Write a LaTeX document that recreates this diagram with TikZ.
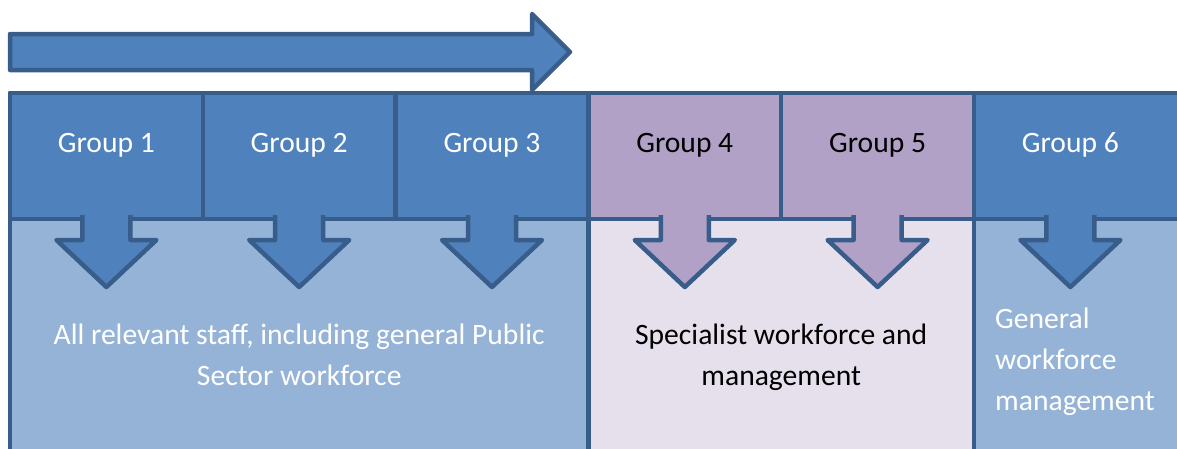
\documentclass[tikz,border=0pt]{standalone}
\usepackage{fontspec}
\setmainfont{Carlito}
\usepackage{tikz}
\usetikzlibrary{positioning}
\definecolor{hdrblue}{HTML}{4F81BD}
\definecolor{lowblue}{HTML}{95B3D7}
\definecolor{hdrpurple}{HTML}{B2A1C7}
\definecolor{lowpurple}{HTML}{E5E0EC}
\definecolor{edgeblue}{HTML}{385D8A}
\newcommand*{\dropArrow}[2]{%
  \fill [#2] ([shift={(-24,-4)}]#1.south) -- ++(0,25) -- ++(-26,0)
        -- ++(50,47) -- ++(50,-47) -- ++(-26,0) -- ++(0,-25) -- cycle;
  \draw [edge] ([shift={(-24,-4)}]#1.south) -- ++(0,25) -- ++(-26,0)
        -- ++(50,47) -- ++(50,-47) -- ++(-26,0) -- ++(0,-25);
}

\begin{document}
\begin{tikzpicture}[x=1pt, y=-1pt,
    edge/.style = {draw=edgeblue, line width=4.5pt, line join=round},
    hdr/.style = {edge, rectangle, minimum width=192.8pt, minimum height=126pt,
                  inner sep=0pt, outer sep=0pt},
    lowbox/.style = {edge, rectangle, minimum height=260pt, anchor=north west,
                     inner sep=0pt, outer sep=0pt},
    txt/.style = {font=\fontsize{29.6}{41}\selectfont, inner sep=0pt}]
\useasboundingbox (0,0) rectangle (1177,448);
\clip (0,0) rectangle (1177,448);

% header row
\node (g1) [hdr, fill=hdrblue, anchor=north west] at (10,93) {};
\node (g2) [hdr, fill=hdrblue, right=0pt of g1] {};
\node (g3) [hdr, fill=hdrblue, right=0pt of g2] {};
\node (g4) [hdr, fill=hdrpurple, right=0pt of g3] {};
\node (g5) [hdr, fill=hdrpurple, right=0pt of g4] {};
\node (g6) [hdr, fill=hdrblue, right=0pt of g5, minimum width=240pt] {};

% lower row
\node (staff) [lowbox, fill=lowblue, minimum width=578.4pt] at (g1.south west) {};
\node (spec) [lowbox, fill=lowpurple, minimum width=385.6pt] at (g4.south west) {};
\node (gen) [lowbox, fill=lowblue, minimum width=240pt] at (g6.south west) {};
% redraw header borders on top
\foreach \g in {g1,g2,g3,g4,g5,g6}
  \draw [edge] (\g.south west) rectangle (\g.north east);

\foreach \g/\c in {g1/hdrblue, g2/hdrblue, g3/hdrblue, g4/hdrpurple, g5/hdrpurple}
  \dropArrow{\g}{\c}
\fill [hdrblue] ([shift={(72.4,-4)}]g6.south west) -- ++(0,25) -- ++(-26,0)
      -- ++(50,47) -- ++(50,-47) -- ++(-26,0) -- ++(0,-25) -- cycle;
\draw [edge] ([shift={(72.4,-4)}]g6.south west) -- ++(0,25) -- ++(-26,0)
      -- ++(50,47) -- ++(50,-47) -- ++(-26,0) -- ++(0,-25);

% labels
\node (t1) [txt, text=white, anchor=base] at ([shift={(96.4,59)}]g1.north west) {Group 1};
\node (t2) [txt, text=white, anchor=base] at ([shift={(96.4,59)}]g2.north west) {Group 2};
\node (t3) [txt, text=white, anchor=base] at ([shift={(96.4,59)}]g3.north west) {Group 3};
\node (t4) [txt, text=black, anchor=base] at ([shift={(96.4,59)}]g4.north west) {Group 4};
\node (t5) [txt, text=black, anchor=base] at ([shift={(96.4,59)}]g5.north west) {Group 5};
\node (t6) [txt, text=white, anchor=base] at ([shift={(96.4,59)}]g6.north west) {Group 6};

\node (staffT) [txt, text=white, align=center, anchor=base]
  at ([shift={(289.2,166)}]staff.north west) {All relevant staff, including general Public\\Sector workforce};
\node (specT) [txt, text=black, align=center, anchor=base]
  at ([shift={(192.8,166)}]spec.north west) {Specialist workforce and\\management};
\node (genT) [txt, text=white, align=left, anchor=base west]
  at ([shift={(21,191)}]gen.north west) {General\\workforce\\management};

% arrow on top
\draw [edge, fill=hdrblue] (10,34) -- (532,34) -- (532,14) -- (570,52)
      -- (532,90) -- (532,70) -- (10,70) -- cycle;
\end{tikzpicture}
\end{document}
